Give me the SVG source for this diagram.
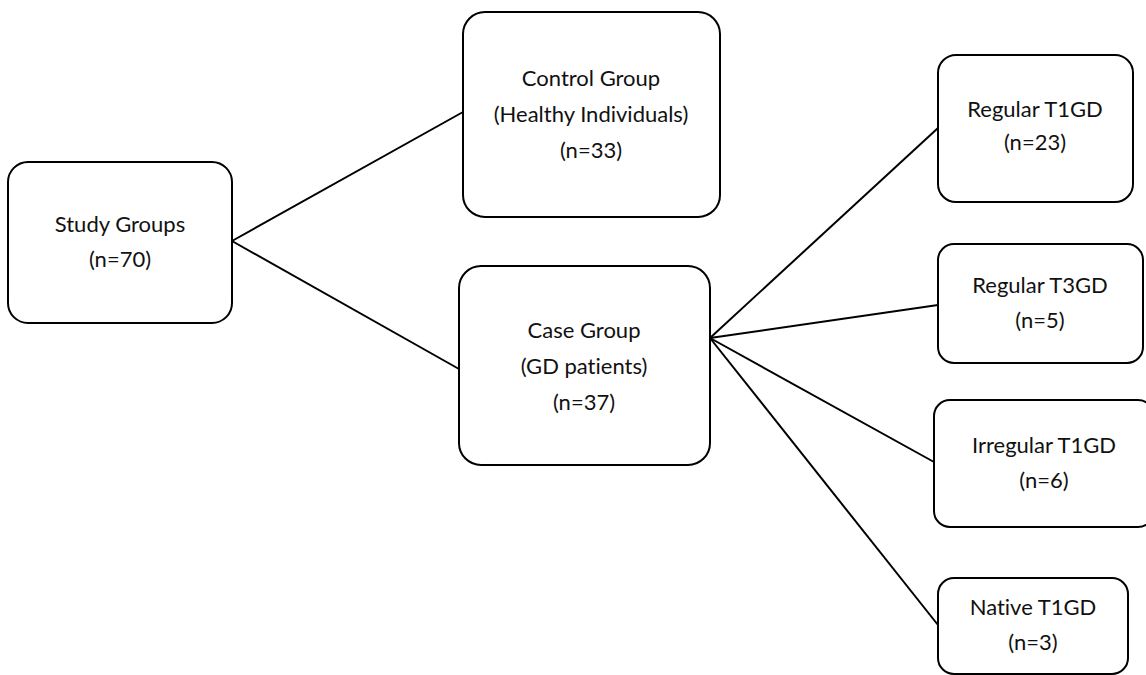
<svg xmlns="http://www.w3.org/2000/svg" width="1146" height="675" viewBox="0 0 1146 675">
<style>
.box{fill:#fff;stroke:#000;stroke-width:2}
.t{font-family:Lato,"Liberation Sans",sans-serif;font-size:22px;fill:#111;text-anchor:middle;font-variant-ligatures:none}
.c{stroke:#000;stroke-width:2;fill:none}
</style>
<rect width="1146" height="675" fill="#fff"/>
<g id="connectors">
<line class="c" x1="232" y1="241" x2="463" y2="112"/>
<line class="c" x1="232" y1="241" x2="459" y2="369"/>
<line class="c" x1="710" y1="338" x2="938" y2="128"/>
<line class="c" x1="710" y1="338" x2="938" y2="305"/>
<line class="c" x1="710" y1="338" x2="934" y2="462"/>
<line class="c" x1="710" y1="338" x2="938" y2="625"/>
</g>
<g id="study">
<rect class="box" x="8" y="162" width="224" height="161" rx="20"/>
<text class="t" x="120" y="232">Study Groups</text>
<text class="t" x="120" y="267">(n=70)</text>
</g>
<g id="control">
<rect class="box" x="463" y="12" width="257" height="205" rx="22"/>
<text class="t" x="591" y="86">Control Group</text>
<text class="t" x="591" y="122">(Healthy Individuals)</text>
<text class="t" x="591" y="158">(n=33)</text>
</g>
<g id="case">
<rect class="box" x="459" y="266" width="251" height="199" rx="22"/>
<text class="t" x="584" y="338">Case Group</text>
<text class="t" x="584" y="374">(GD patients)</text>
<text class="t" x="584" y="410">(n=37)</text>
</g>
<g id="regT1">
<rect class="box" x="938" y="55" width="195" height="147" rx="18"/>
<text class="t" x="1035" y="117">Regular T1GD</text>
<text class="t" x="1035" y="150">(n=23)</text>
</g>
<g id="regT3">
<rect class="box" x="938" y="244" width="205" height="119" rx="16"/>
<text class="t" x="1040" y="293">Regular T3GD</text>
<text class="t" x="1040" y="328">(n=5)</text>
</g>
<g id="irrT1">
<rect class="box" x="934" y="400" width="220" height="127" rx="16"/>
<text class="t" x="1044" y="453">Irregular T1GD</text>
<text class="t" x="1044" y="488">(n=6)</text>
</g>
<g id="natT1">
<rect class="box" x="938" y="578" width="190" height="96" rx="16"/>
<text class="t" x="1033" y="615">Native T1GD</text>
<text class="t" x="1033" y="650">(n=3)</text>
</g>
</svg>
